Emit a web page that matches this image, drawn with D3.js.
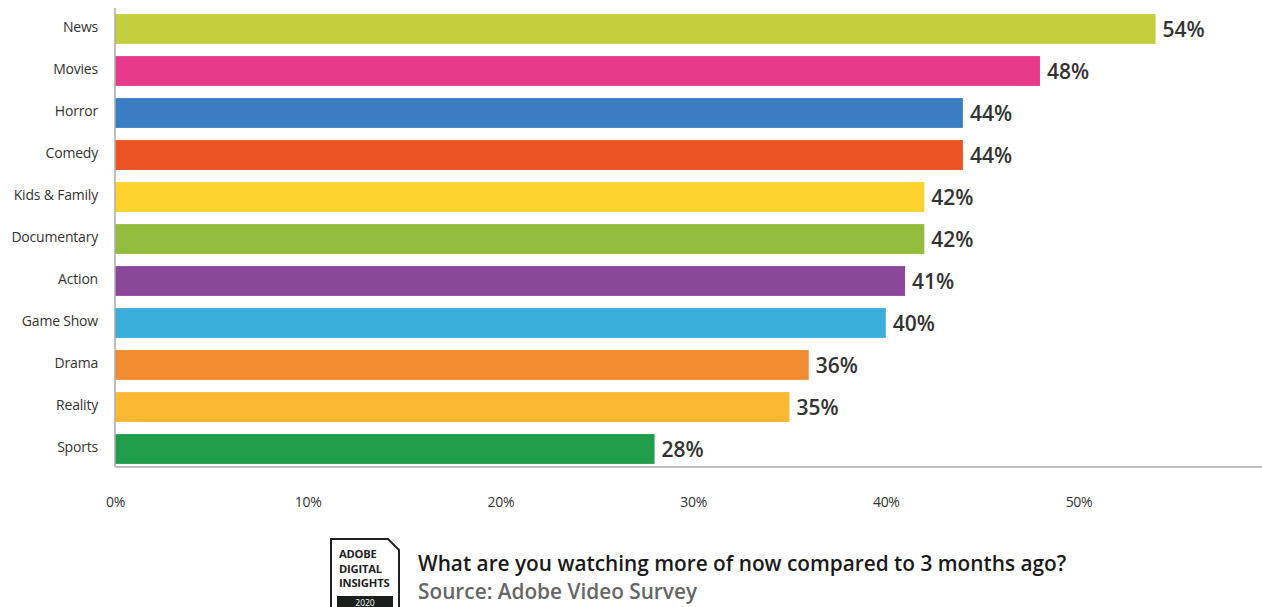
<!DOCTYPE html>
<html>
<head>
<meta charset="utf-8">
<script src="https://cdn.jsdelivr.net/npm/d3@7"></script>
<style>
  html, body { margin: 0; padding: 0; background: #fff; }
  svg { display: block; font-family: "Open Sans", "Noto Sans", sans-serif; }
</style>
</head>
<body>
<svg id="chart" width="1262" height="607"></svg>
<script>
const categories = ["News", "Movies", "Horror", "Comedy", "Kids & Family", "Documentary", "Action", "Game Show", "Drama", "Reality", "Sports"];
const values = [54, 48, 44, 44, 42, 42, 41, 40, 36, 35, 28];
const colors = ["#c4cf3e", "#e83a8a", "#3a7dc2", "#eb5323", "#fdd22f", "#93bd3e", "#8a489b", "#3aaedb", "#f38b31", "#fbb832", "#1f9d4b"];
const tickValues = [0, 10, 20, 30, 40, 50];
const title = "What are you watching more of now compared to 3 months ago?";
const source = "Source: Adobe Video Survey";

const svg = d3.select("#chart");
const x = d3.scaleLinear().domain([0, 10]).range([115, 307.7]);
const y = d3.scaleBand().domain(categories).range([8, 470]).paddingInner(0.29).paddingOuter(0.145);

// bars
svg.append("g").selectAll("rect").data(categories).join("rect")
  .attr("x", x(0))
  .attr("y", d => y(d))
  .attr("width", (d, i) => x(values[i]) - x(0))
  .attr("height", y.bandwidth())
  .attr("fill", (d, i) => colors[i]);

// axis lines
svg.append("line").attr("x1", x(0)).attr("x2", x(0)).attr("y1", 8).attr("y2", 467)
  .attr("stroke", "#aaa").attr("stroke-width", 1.5);
svg.append("line").attr("x1", x(0)).attr("x2", 1262).attr("y1", 467).attr("y2", 467)
  .attr("stroke", "#aaa").attr("stroke-width", 1.5);

// category labels via axis
const yAxis = svg.append("g").attr("transform", `translate(${x(0) - 17},-1.5)`)
  .call(d3.axisLeft(y).tickSize(0).tickPadding(0));
yAxis.select(".domain").remove();
yAxis.selectAll("text").attr("font-size", 14).attr("fill", "#333")
  .attr("font-family", "'Open Sans', sans-serif").attr("letter-spacing", "-0.2px");

// x tick labels via axis
const xAxis = svg.append("g").attr("transform", "translate(0,497)")
  .call(d3.axisBottom(x).tickValues(tickValues).tickFormat(d => d + "%").tickSize(0).tickPadding(0));
xAxis.select(".domain").remove();
xAxis.selectAll("text").attr("font-size", 14).attr("fill", "#333")
  .attr("font-family", "'Open Sans', sans-serif").attr("letter-spacing", "-0.3px");

// value labels
svg.append("g").selectAll("text").data(categories).join("text")
  .attr("x", (d, i) => x(values[i]) + 7)
  .attr("y", d => y(d) + y.bandwidth() / 2)
  .attr("dy", "0.36em")
  .attr("font-size", 21)
  .attr("font-weight", 600)
  .attr("fill", "#333")
  .text((d, i) => values[i] + "%");

// logo
const logo = svg.append("g");
logo.append("path")
  .attr("d", "M331,539 L388,539 L399,550 L399,609 L331,609 Z")
  .attr("fill", "#fff").attr("stroke", "#222").attr("stroke-width", 2);
logo.append("rect").attr("x", 337).attr("y", 596).attr("width", 56).attr("height", 12).attr("fill", "#1a1f1c");
logo.append("text").attr("x", 365).attr("y", 606).attr("text-anchor", "middle")
  .attr("font-size", 8.5).attr("fill", "#fff").text("2020");
["ADOBE", "DIGITAL", "INSIGHTS"].forEach((t, i) => {
  logo.append("text").attr("x", 339).attr("y", 558 + i * 14.5)
    .attr("font-size", 11.2).attr("font-weight", 700).attr("fill", "#222")
    .attr("letter-spacing", "-0.2px").text(t);
});

// title & source
svg.append("text").attr("x", 418).attr("y", 571)
  .attr("font-size", 20.8).attr("font-weight", 600).attr("fill", "#1a1a1a").text(title);
svg.append("text").attr("x", 418).attr("y", 599)
  .attr("font-size", 20.8).attr("font-weight", 600).attr("fill", "#666").text(source);
</script>
</body>
</html>
